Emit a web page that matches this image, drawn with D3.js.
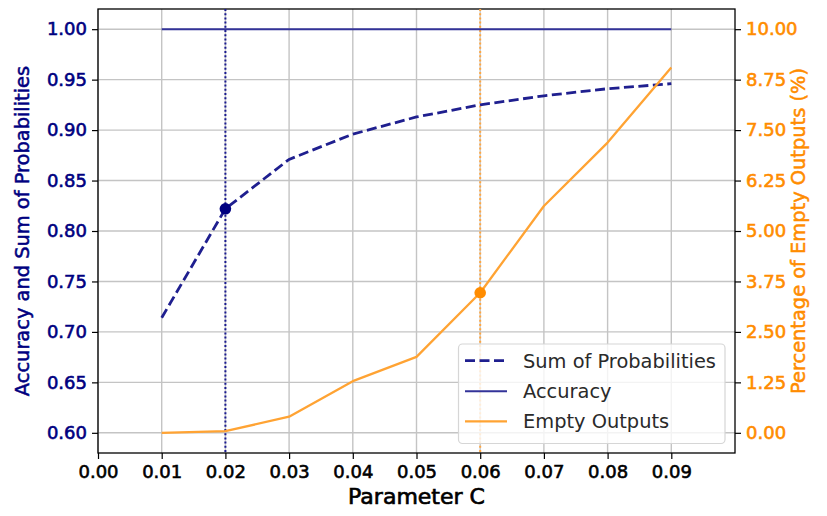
<!DOCTYPE html>
<html>
<head>
<meta charset="utf-8">
<script src="https://cdn.jsdelivr.net/npm/d3@7"></script>
<style>
  html, body { margin: 0; padding: 0; background: #fff; }
  svg { display: block; font-family: "DejaVu Sans", sans-serif; }
</style>
</head>
<body>
<svg id="chart" width="827" height="516"></svg>
<script>
// Parameter C sweep
const paramC = [0.01, 0.02, 0.03, 0.04, 0.05, 0.06, 0.07, 0.08, 0.09];
const sumProb = [0.714, 0.822, 0.871, 0.896, 0.913, 0.925, 0.934, 0.941, 0.946];
const accuracy = [1.0, 1.0, 1.0, 1.0, 1.0, 1.0, 1.0, 1.0, 1.0];
const emptyPct = [0.0, 0.04, 0.40, 1.28, 1.88, 3.47, 5.62, 7.19, 9.05];

// Highlighted points
const markSum = { c: 0.02, v: 0.822 };
const markEmpty = { c: 0.06, v: 3.47 };

// Tick labels
const xTicks = [0.00, 0.01, 0.02, 0.03, 0.04, 0.05, 0.06, 0.07, 0.08, 0.09];
const leftTicks = [0.60, 0.65, 0.70, 0.75, 0.80, 0.85, 0.90, 0.95, 1.00];
const rightTicks = [0.00, 1.25, 2.50, 3.75, 5.00, 6.25, 7.50, 8.75, 10.00];

const NAVY = "#000080";
const NAVY_LINE = "#333399";
const ORANGE = "#ff8c00";
const ORANGE_LINE = "#ffa333";

const svg = d3.select("#chart");
const L = 98, R = 735, T = 9, B = 453;

const x = d3.scaleLinear().domain([0, 0.1]).range([L, R]);
const yL = d3.scaleLinear().domain([0.58, 1.02]).range([B, T]);
const yR = d3.scaleLinear().domain([-0.5, 10.5]).range([B, T]);

// Grid
const grid = svg.append("g");
grid.selectAll("line.gx").data(xTicks).join("line")
  .attr("x1", d => x(d)).attr("x2", d => x(d)).attr("y1", T).attr("y2", B)
  .attr("stroke", "#c4c4c4").attr("stroke-width", 1.4);
grid.selectAll("line.gy").data(leftTicks).join("line")
  .attr("x1", L).attr("x2", R).attr("y1", d => yL(d)).attr("y2", d => yL(d))
  .attr("stroke", "#c4c4c4").attr("stroke-width", 1.4);

// Axes
const fmt2 = d3.format(".2f");
const xAxis = svg.append("g").attr("transform", `translate(0,${B})`)
  .call(d3.axisBottom(x).tickValues(xTicks).tickFormat(fmt2).tickSizeOuter(0).tickSize(6).tickPadding(6));
const lAxis = svg.append("g").attr("transform", `translate(${L},0)`)
  .call(d3.axisLeft(yL).tickValues(leftTicks).tickFormat(fmt2).tickSizeOuter(0).tickSize(6).tickPadding(5));
const rAxis = svg.append("g").attr("transform", `translate(${R},0)`)
  .call(d3.axisRight(yR).tickValues(rightTicks).tickFormat(fmt2).tickSizeOuter(0).tickSize(6).tickPadding(5));

[xAxis, lAxis, rAxis].forEach(g => {
  g.select(".domain").remove();
  g.selectAll(".tick line").attr("stroke", "#000").attr("stroke-width", 1.2);
  g.selectAll(".tick text").attr("font-size", 18).attr("font-family", "DejaVu Sans")
    .attr("stroke-width", 0.6);
});
xAxis.selectAll(".tick text").attr("fill", "#000").attr("stroke", "#000");
lAxis.selectAll(".tick text").attr("fill", NAVY).attr("stroke", NAVY);
rAxis.selectAll(".tick text").attr("fill", ORANGE).attr("stroke", ORANGE);

// Frame
svg.append("rect").attr("x", L).attr("y", T).attr("width", R - L).attr("height", B - T)
  .attr("fill", "none").attr("stroke", "#000").attr("stroke-width", 1.3);

// Reference lines
svg.append("line")
  .attr("x1", x(markSum.c)).attr("x2", x(markSum.c)).attr("y1", T).attr("y2", B)
  .attr("stroke", "#1a1a90").attr("stroke-width", 2).attr("stroke-dasharray", "2,2.2");
svg.append("line")
  .attr("x1", x(markEmpty.c)).attr("x2", x(markEmpty.c)).attr("y1", T).attr("y2", B)
  .attr("stroke", "#ffa640").attr("stroke-width", 2).attr("stroke-dasharray", "2,2.2");

// Series
const lineL = d3.line().x((d, i) => x(paramC[i])).y(d => yL(d));
const lineR = d3.line().x((d, i) => x(paramC[i])).y(d => yR(d));

svg.append("path").datum(accuracy).attr("d", lineL)
  .attr("fill", "none").attr("stroke", NAVY_LINE).attr("stroke-width", 2.1);
svg.append("path").datum(sumProb).attr("d", lineL)
  .attr("fill", "none").attr("stroke", "#1f1f8f").attr("stroke-width", 2.8)
  .attr("stroke-dasharray", "10,4.5");
svg.append("path").datum(emptyPct).attr("d", lineR)
  .attr("fill", "none").attr("stroke", ORANGE_LINE).attr("stroke-width", 2.3)
  .attr("stroke-linejoin", "round");

// Markers
svg.append("circle").attr("cx", x(markSum.c)).attr("cy", yL(markSum.v)).attr("r", 5.8)
  .attr("fill", NAVY);
svg.append("circle").attr("cx", x(markEmpty.c)).attr("cy", yR(markEmpty.v)).attr("r", 5.8)
  .attr("fill", ORANGE);

// Axis titles
svg.append("text").attr("x", (L + R) / 2).attr("y", 504).attr("text-anchor", "middle")
  .attr("font-size", 22).attr("fill", "#000").attr("stroke", "#000").attr("stroke-width", 0.7)
  .text("Parameter C");
svg.append("text")
  .attr("transform", `translate(29,${(T + B) / 2}) rotate(-90)`)
  .attr("text-anchor", "middle").attr("font-size", 19.4).attr("fill", NAVY)
  .attr("stroke", NAVY).attr("stroke-width", 0.5)
  .text("Accuracy and Sum of Probabilities");
svg.append("text")
  .attr("transform", `translate(805,${(T + B) / 2}) rotate(-90)`)
  .attr("text-anchor", "middle").attr("font-size", 19.4).attr("fill", ORANGE)
  .attr("stroke", ORANGE).attr("stroke-width", 0.5)
  .text("Percentage of Empty Outputs (%)");

// Legend
const leg = svg.append("g");
leg.append("rect").attr("x", 458.5).attr("y", 344).attr("width", 266.5).attr("height", 99.5)
  .attr("rx", 4).attr("fill", "#fff").attr("fill-opacity", 0.8)
  .attr("stroke", "#d6d6d6").attr("stroke-width", 1.2);
const legItems = [
  { label: "Sum of Probabilities", color: "#1f1f8f", dash: "10,4.5", w: 2.8 },
  { label: "Accuracy", color: NAVY_LINE, dash: null, w: 2.1 },
  { label: "Empty Outputs", color: ORANGE_LINE, dash: null, w: 2.3 }
];
const rowY = [360.7, 391.3, 421.3];
legItems.forEach((it, i) => {
  leg.append("line").attr("x1", 465).attr("x2", 507).attr("y1", rowY[i]).attr("y2", rowY[i])
    .attr("stroke", it.color).attr("stroke-width", it.w)
    .attr("stroke-dasharray", it.dash);
  leg.append("text").attr("x", 523).attr("y", rowY[i]).attr("dy", "0.36em")
    .attr("font-size", 19.4).attr("fill", "#2a2a2a").text(it.label);
});
</script>
</body>
</html>
